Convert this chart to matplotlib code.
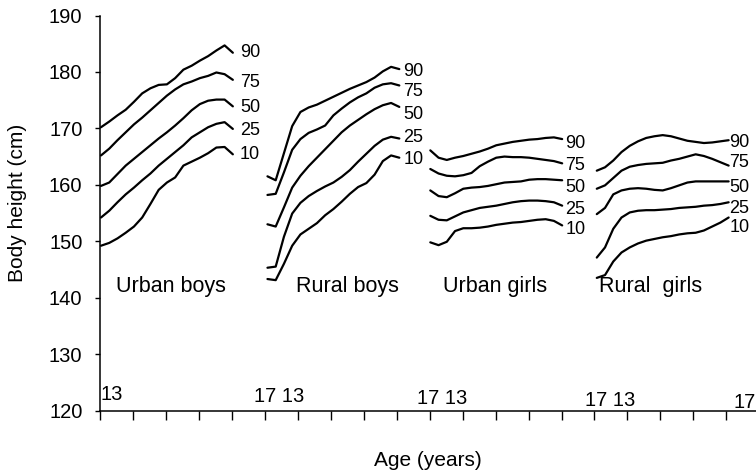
import matplotlib
matplotlib.use("Agg")
import matplotlib.pyplot as plt

plt.rcParams['font.family'] = ['Liberation Sans', 'DejaVu Sans']

# ---------------- data ----------------
ages = [13.0, 13.25, 13.5, 13.75, 14.0, 14.25, 14.5, 14.75, 15.0,
        15.25, 15.5, 15.75, 16.0, 16.25, 16.5, 16.75, 17.0]

percentiles = ["90", "75", "50", "25", "10"]
groups = ["Urban boys", "Rural boys", "Urban girls", "Rural  girls"]

urban_boys_90 = [170.2, 171.2, 172.3, 173.3, 174.7, 176.2, 177.1, 177.7, 177.8, 178.9, 180.4, 181.1, 182.0, 182.8, 183.8, 184.7, 183.4]
urban_boys_75 = [165.2, 166.4, 167.9, 169.3, 170.7, 171.9, 173.2, 174.5, 175.8, 176.9, 177.8, 178.3, 178.9, 179.3, 179.9, 179.6, 178.6]
urban_boys_50 = [159.8, 160.4, 161.9, 163.4, 164.6, 165.8, 167.0, 168.2, 169.3, 170.5, 171.8, 173.2, 174.3, 174.9, 175.1, 175.1, 173.9]
urban_boys_25 = [154.2, 155.4, 156.9, 158.3, 159.5, 160.8, 162.0, 163.4, 164.6, 165.8, 167.0, 168.4, 169.3, 170.2, 170.8, 171.1, 169.9]
urban_boys_10 = [149.2, 149.7, 150.5, 151.5, 152.6, 154.2, 156.6, 159.1, 160.4, 161.3, 163.4, 164.1, 164.8, 165.6, 166.6, 166.7, 165.4]

rural_boys_90 = [161.5, 160.8, 165.6, 170.4, 172.9, 173.7, 174.2, 174.9, 175.6, 176.3, 177.0, 177.6, 178.2, 179.0, 180.1, 180.9, 180.5]
rural_boys_75 = [158.2, 158.4, 162.2, 166.2, 168.1, 169.2, 169.8, 170.5, 172.3, 173.5, 174.6, 175.5, 176.2, 177.2, 177.8, 178.0, 177.6]
rural_boys_50 = [153.0, 152.6, 156.0, 159.5, 161.6, 163.3, 164.8, 166.3, 167.8, 169.3, 170.5, 171.5, 172.5, 173.4, 174.1, 174.5, 173.8]
rural_boys_25 = [145.3, 145.5, 150.8, 154.9, 156.8, 158.0, 158.9, 159.7, 160.4, 161.4, 162.6, 164.1, 165.5, 166.9, 168.0, 168.5, 168.2]
rural_boys_10 = [143.3, 143.1, 146.0, 149.2, 151.2, 152.2, 153.2, 154.6, 155.7, 157.0, 158.4, 159.6, 160.3, 161.8, 164.2, 165.2, 164.8]

urban_girls_90 = [166.1, 164.8, 164.4, 164.8, 165.1, 165.5, 165.9, 166.4, 167.0, 167.3, 167.6, 167.8, 168.0, 168.1, 168.3, 168.4, 168.1]
urban_girls_75 = [162.8, 162.0, 161.6, 161.5, 161.7, 162.1, 163.3, 164.1, 164.8, 165.0, 164.9, 164.9, 164.8, 164.6, 164.4, 164.2, 163.8]
urban_girls_50 = [159.0, 158.0, 157.8, 158.5, 159.3, 159.5, 159.6, 159.8, 160.1, 160.4, 160.5, 160.6, 160.9, 161.0, 161.0, 160.9, 160.8]
urban_girls_25 = [154.5, 153.8, 153.7, 154.4, 155.1, 155.5, 155.9, 156.1, 156.3, 156.6, 156.9, 157.1, 157.2, 157.2, 157.1, 156.9, 156.3]
urban_girls_10 = [149.8, 149.3, 149.9, 151.8, 152.3, 152.3, 152.4, 152.6, 152.9, 153.1, 153.3, 153.4, 153.6, 153.8, 153.9, 153.6, 152.8]

rural_girls_90 = [162.5, 163.1, 164.3, 165.8, 166.9, 167.7, 168.3, 168.6, 168.8, 168.6, 168.2, 167.8, 167.6, 167.4, 167.5, 167.7, 167.9]
rural_girls_75 = [159.3, 159.9, 161.2, 162.5, 163.2, 163.5, 163.7, 163.8, 163.9, 164.3, 164.6, 165.0, 165.4, 165.1, 164.6, 164.0, 163.4]
rural_girls_50 = [154.8, 155.9, 158.3, 159.0, 159.3, 159.4, 159.3, 159.1, 159.0, 159.4, 159.9, 160.4, 160.6, 160.6, 160.6, 160.6, 160.6]
rural_girls_25 = [147.1, 148.9, 152.2, 154.2, 155.1, 155.4, 155.5, 155.5, 155.6, 155.7, 155.9, 156.0, 156.1, 156.3, 156.4, 156.6, 156.9]
rural_girls_10 = [143.5, 144.0, 146.4, 148.0, 148.9, 149.6, 150.1, 150.4, 150.7, 150.9, 151.2, 151.4, 151.5, 151.9, 152.6, 153.3, 154.2]

yticks = [120, 130, 140, 150, 160, 170, 180, 190]
age_marks = ["13", "17 13", "17 13", "17 13", "17"]

panels = [
    [urban_boys_90, urban_boys_75, urban_boys_50, urban_boys_25, urban_boys_10],
    [rural_boys_90, rural_boys_75, rural_boys_50, rural_boys_25, rural_boys_10],
    [urban_girls_90, urban_girls_75, urban_girls_50, urban_girls_25, urban_girls_10],
    [rural_girls_90, rural_girls_75, rural_girls_50, rural_girls_25, rural_girls_10],
]

# ---------------- layout ----------------
panel_offset = [0.03, 5.08, 10.02, 15.07]
pct_label_x = [4.25, 9.2, 14.11, 19.09]
pct_label_y = [
    [183.4, 178.1, 173.7, 169.6, 165.4],
    [180.0, 176.6, 172.5, 168.4, 164.5],
    [167.4, 163.4, 159.6, 155.6, 152.0],
    [167.5, 163.9, 159.6, 155.8, 152.4],
]
group_label_x = [0.5, 5.95, 10.4, 15.15]
group_label_y = 142.0
age_mark_x = [0.36, 5.42, 10.38, 15.48, 19.55]
age_mark_y = [122.9, 122.5, 122.1, 121.8, 121.4]

fig = plt.figure(figsize=(7.56, 4.74), dpi=100)
ax = fig.add_axes([100 / 756, 1 - 410.5 / 474, 1 - 100 / 756, (410.5 - 15.5) / 474])

for i, (off, curves) in enumerate(zip(panel_offset, panels)):
    xs = [off + (a - 13.0) for a in ages]
    for j, (p, vals) in enumerate(zip(percentiles, curves)):
        ax.plot(xs, vals, color='black', lw=1.6, solid_capstyle='round',
                solid_joinstyle='round', clip_on=False)
        ax.text(pct_label_x[i], pct_label_y[i][j], p, fontsize=13,
                ha='left', va='center', clip_on=False)

for name, gx in zip(groups, group_label_x):
    ax.text(gx, group_label_y, name, fontsize=15.5, ha='left', va='center')

for lab, mx, my in zip(age_marks, age_mark_x, age_mark_y):
    ax.text(mx, my, lab, fontsize=14.5, ha='center', va='center', clip_on=False)

ax.set_xlim(0, 19.9)
ax.set_ylim(120, 190)
ax.set_xticks(range(0, 20))
ax.set_xticklabels([])
ax.set_yticks(yticks)
ax.tick_params(axis='x', direction='out', length=6.5, width=1.0)
ax.tick_params(axis='y', direction='out', length=3.6, width=1.0, labelsize=14.5, pad=9)
for s in ['top', 'right']:
    ax.spines[s].set_visible(False)
for s in ['left', 'bottom']:
    ax.spines[s].set_linewidth(1.1)

fig.text(18 / 756, 1 - 203 / 474, "Body height (cm)", rotation=90,
         fontsize=15, ha='center', va='center')
fig.text(427.5 / 756, 1 - 461 / 474, "Age (years)", fontsize=15,
         ha='center', va='center')

fig.savefig("out.png", dpi=100)
